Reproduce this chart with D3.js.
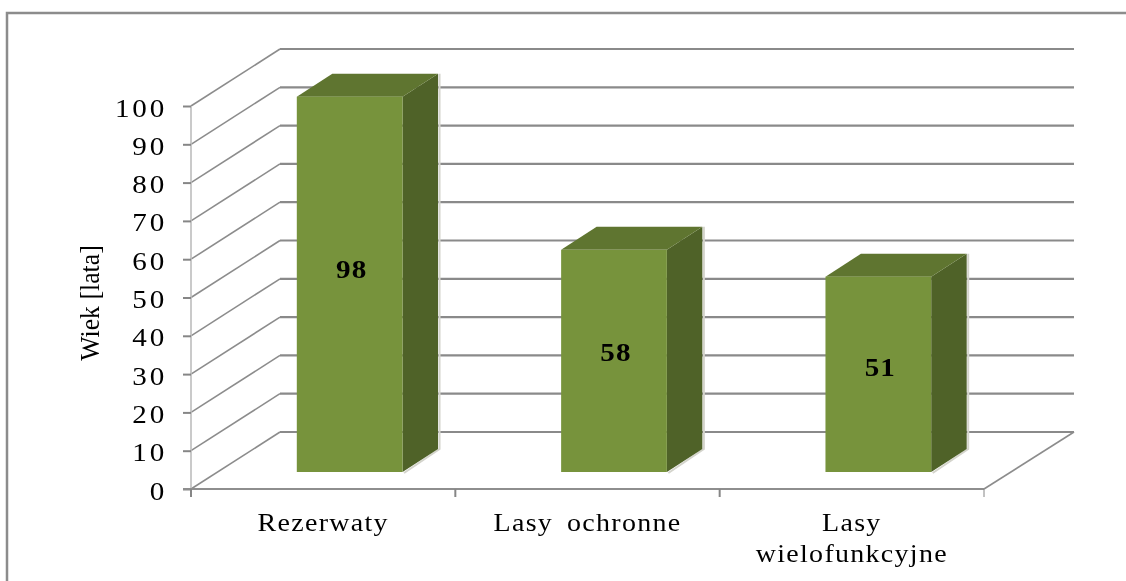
<!DOCTYPE html>
<html>
<head>
<meta charset="utf-8">
<script src="https://cdn.jsdelivr.net/npm/d3@7"></script>
<style>
  html, body { margin: 0; padding: 0; background: #fff; overflow: hidden; }
  text { font-family: "Liberation Serif", serif; fill: #000; }
  .chart { filter: blur(0.45px); }
</style>
</head>
<body>
<svg class="chart" width="1126" height="581"></svg>
<script>
const categories = ["Rezerwaty", "Lasy ochronne", "Lasy wielofunkcyjne"];
const values = [98, 58, 51];
const yTicks = [0, 10, 20, 30, 40, 50, 60, 70, 80, 90, 100];

const svg = d3.select(".chart");
const stretch = 1.12; // the source picture is stretched sideways

const plot = { left: 191, right: 984, bottom: 489, top: 106 };
const wallX = 89, wallY = -57; // offset front plane -> back wall
const barOffX = 26.5, barOffY = -17; // bars stand a bit into the floor
const barDepthX = 35.5, barDepthY = -23;

const xScale = d3.scaleBand().domain(categories).range([plot.left, plot.right]).paddingInner(0).paddingOuter(0);
const yScale = d3.scaleLinear().domain([0, 100]).range([plot.bottom, plot.top]);
const barWidth = xScale.bandwidth() * 0.4;

// outer frame, only top and left are visible
svg.append("path")
  .attr("d", "M7,581V13H1126")
  .attr("fill", "none")
  .attr("stroke", "#8c8c8c")
  .attr("stroke-width", 2.5);

// back wall grid + side wall lines
const grid = svg.append("g");
grid.selectAll(".back")
  .data(yTicks)
  .enter()
  .append("line")
  .attr("class", "back")
  .attr("x1", plot.left + wallX)
  .attr("x2", plot.right + wallX + 1)
  .attr("y1", d => yScale(d) + wallY)
  .attr("y2", d => yScale(d) + wallY)
  .attr("stroke", "#8a8a8a")
  .attr("stroke-width", 2.2);

grid.selectAll(".side")
  .data(yTicks)
  .enter()
  .append("line")
  .attr("class", "side")
  .attr("x1", plot.left)
  .attr("x2", plot.left + wallX)
  .attr("y1", d => yScale(d))
  .attr("y2", d => yScale(d) + wallY)
  .attr("stroke", "#8c8c8c")
  .attr("stroke-width", 1.6);

// right edge of the floor
grid.append("line")
  .attr("x1", plot.right)
  .attr("x2", plot.right + wallX + 1)
  .attr("y1", plot.bottom)
  .attr("y2", plot.bottom + wallY)
  .attr("stroke", "#8c8c8c")
  .attr("stroke-width", 1.6);

// y axis
const yAxis = d3.axisLeft(yScale).tickValues(yTicks).tickSize(8).tickFormat(d3.format("d"));
const yAxisG = svg.append("g").attr("transform", `translate(${plot.left},0)`).call(yAxis);
yAxisG.select(".domain").attr("stroke", "#bdbdbd").attr("stroke-width", 1.6).attr("d", `M0,${plot.top}V${plot.bottom}`);
yAxisG.selectAll(".tick line").attr("stroke", "#868686").attr("stroke-width", 2);
yAxisG.selectAll(".tick text")
  .attr("x", -24 / stretch)
  .attr("dy", null)
  .attr("y", 10)
  .attr("transform", `scale(${stretch},1)`)
  .attr("text-anchor", "end")
  .style("font-size", "26px")
  .style("letter-spacing", "2.5px")
  .style("font-family", '"Liberation Serif", serif');

// x axis
const xAxis = d3.axisBottom(xScale).tickSize(0).tickFormat("");
const xAxisG = svg.append("g").attr("transform", `translate(0,${plot.bottom})`).call(xAxis);
xAxisG.select(".domain").attr("stroke", "#8e8e8e").attr("stroke-width", 2).attr("d", `M${plot.left - 8},0H${plot.right}`);
xAxisG.selectAll(".xtick")
  .data([plot.left].concat(categories.map(c => xScale(c) + xScale.bandwidth())))
  .enter()
  .append("line")
  .attr("class", "xtick")
  .attr("x1", d => d)
  .attr("x2", d => d)
  .attr("y1", 0)
  .attr("y2", 8)
  .attr("stroke", "#868686")
  .attr("stroke-width", (d, i) => (i === 3 ? 1 : 2));

// category labels, the long one wraps
const catLines = [["Rezerwaty"], ["Lasy ochronne"], ["Lasy", "wielofunkcyjne"]];
const catLabel = svg.selectAll(".cat")
  .data(categories)
  .enter()
  .append("text")
  .attr("class", "cat")
  .attr("transform", d => `translate(${xScale(d) + xScale.bandwidth() / 2},0) scale(${stretch},1)`)
  .attr("text-anchor", "middle")
  .style("font-size", "25px")
  .style("letter-spacing", "1.15px")
  .style("word-spacing", "5px");
catLabel.selectAll("tspan")
  .data((d, i) => catLines[i])
  .enter()
  .append("tspan")
  .attr("x", 0)
  .attr("y", (d, i) => 531 + i * 31)
  .text(d => d);

// bars
const bars = svg.selectAll(".bar")
  .data(categories.map((c, i) => ({ c, v: values[i] })))
  .enter()
  .append("g")
  .attr("class", "bar");

const bx = d => xScale(d.c) + (xScale.bandwidth() - barWidth) / 2 + barOffX;
const by = d => yScale(d.v) + barOffY;
const bb = () => yScale(0) + barOffY;

// pale edge behind the side face
bars.append("path")
  .attr("d", d => {
    const x = bx(d) + barWidth + barDepthX + 1.5;
    return `M${x},${by(d) + barDepthY}V${bb() + barDepthY}L${x - barDepthX},${bb() + 1}`;
  })
  .attr("fill", "none")
  .attr("stroke", "#d4d4cc")
  .attr("stroke-width", 2);

bars.append("path")
  .attr("fill", "#4f6228")
  .attr("d", d => {
    const x = bx(d) + barWidth;
    return `M${x},${by(d)}l${barDepthX},${barDepthY}V${bb() + barDepthY}L${x},${bb()}Z`;
  });

bars.append("path")
  .attr("fill", "#5f7530")
  .attr("d", d => {
    const x = bx(d);
    return `M${x},${by(d)}l${barDepthX},${barDepthY}h${barWidth}l${-barDepthX},${-barDepthY}Z`;
  });

bars.append("rect")
  .attr("fill", "#77933c")
  .attr("x", bx)
  .attr("y", by)
  .attr("width", barWidth)
  .attr("height", d => bb() - by(d));

// value labels
bars.append("text")
  .attr("transform", d => `translate(${bx(d) + barWidth / 2 + 2},${yScale(d.v * 0.54) + barOffY + 9}) scale(${stretch},1)`)
  .attr("text-anchor", "middle")
  .style("font-size", "26px")
  .style("font-weight", "bold")
  .style("letter-spacing", "1px")
  .text(d => d.v);

// y title
svg.append("text")
  .attr("transform", "translate(99,303) rotate(-90) scale(1.12,1.22)")
  .attr("text-anchor", "middle")
  .style("font-size", "23px")
  .text("Wiek [lata]");
</script>
</body>
</html>
